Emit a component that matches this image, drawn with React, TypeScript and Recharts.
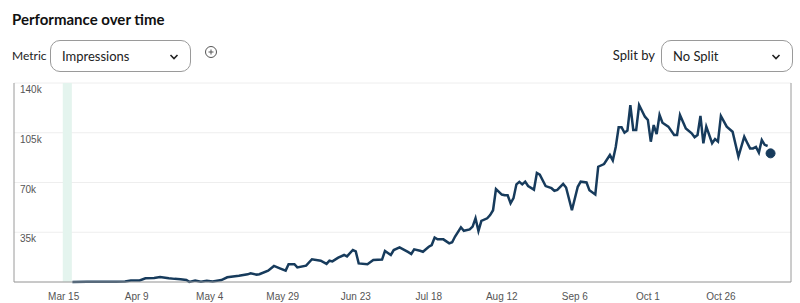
import { LineChart, Line, XAxis, YAxis, CartesianGrid, ReferenceArea, ReferenceLine } from 'recharts';

// days counted from Mar 15
const dayOffsets = [
  3, 8, 13, 18, 21, 23, 26, 28, 31, 33, 36, 38, 40, 42, 43, 45, 47, 49, 51, 54,
  56, 60, 63, 64, 66, 67, 70, 72, 74, 76, 77, 79, 80, 83, 85, 88, 90, 91, 92, 94,
  96, 97, 99, 100, 101, 104, 106, 109, 110, 112, 113, 115, 118, 119, 120, 122, 123, 125, 126, 127,
  128, 130, 132, 133, 134, 136, 137, 139, 140, 141, 142, 143, 145, 146, 147, 148, 150, 151, 152, 153,
  154, 155, 156, 157, 158, 159, 161, 162, 163, 165, 167, 168, 169, 171, 172, 174, 176, 177, 179, 180,
  182, 183, 185, 187, 188, 189, 190, 191, 192, 193, 194, 195, 196, 197, 199, 200, 201, 202, 203, 204,
  205, 207, 209, 210, 211, 213, 215, 216, 217, 218, 219, 220, 222, 223, 224, 225, 227, 229, 231, 233,
  234, 235, 236, 237, 238, 239, 240, 241
];

const impressions = [
  0, 100, 200, 200, 300, 1000, 1100, 2600, 2800, 3500, 2600, 2200, 2000, 1400, 100, 1000, 200, 800, 300, 1400,
  3300, 4400, 5400, 6100, 5200, 5500, 8000, 11300, 9600, 8000, 12500, 12500, 10300, 11500, 16000, 15000, 12700, 15000, 14500, 17100,
  19000, 18000, 22500, 21500, 13100, 12500, 15500, 15800, 21800, 19000, 22500, 24400, 21000, 19700, 23000, 22000, 21300, 24800, 26000, 31300,
  30000, 30000, 27200, 28000, 32000, 38500, 36000, 37000, 39000, 44800, 35900, 43000, 44800, 47100, 50500, 65400, 61500, 61000, 61000, 55400,
  59000, 68700, 70500, 68700, 70600, 67500, 65000, 76700, 75500, 67500, 66000, 64200, 64800, 69000, 66500, 50500, 67000, 70600, 70000, 64500,
  61500, 81100, 83000, 89300, 85500, 95000, 108800, 108800, 105000, 106500, 124500, 107000, 107000, 124500, 116300, 114000, 98700, 110400, 104000, 117500,
  112000, 109300, 103400, 103400, 117500, 108000, 104600, 101800, 103400, 116800, 97600, 109300, 97600, 100500, 98800, 116800, 109300, 105700, 88200, 102200,
  98000, 94000, 94000, 95000, 91000, 99900, 96500, 95700
];

const latestDay = 242;
const latestValue = 90500;

const xTickDays = [0, 25, 50, 75, 100, 125, 150, 175, 200, 225];
const xTickLabels = ['Mar 15', 'Apr 9', 'May 4', 'May 29', 'Jun 23', 'Jul 18', 'Aug 12', 'Sep 6', 'Oct 1', 'Oct 26'];
const yTicks = [0, 35000, 70000, 105000, 140000];
const yTickLabels = ['0', '35k', '70k', '105k', '140k'];

const LINE_COLOR = '#173b5c';
const TICK_FONT = "'Liberation Sans', Arial, sans-serif";

const chartData = [
  ...dayOffsets.map((day, i) => ({ day, impressions: impressions[i] })),
  { day: latestDay, latest: latestValue }
];

const renderYTick = (props: any) => {
  const { y, payload, index } = props;
  const idx = yTicks.indexOf(Number(payload?.value));
  if (idx <= 0) return <g key={`yt-${index}`} />;
  return (
    <text key={`yt-${index}`} x={20} y={y + 10} fontSize={10} fill="#555" fontFamily={TICK_FONT} textAnchor="start">
      {yTickLabels[idx]}
    </text>
  );
};

const Chevron = ({ x, y }: { x: number; y: number }) => (
  <svg style={{ position: 'absolute', left: x, top: y }} width={10} height={8}>
    <polyline points="1.5,2 5,5.5 8.5,2" fill="none" stroke="#222" strokeWidth={1.6} />
  </svg>
);

const Select = ({ left, width, label }: { left: number; width: number; label: string }) => (
  <div
    style={{
      position: 'absolute',
      left,
      top: 40,
      width,
      height: 32,
      boxSizing: 'border-box',
      border: '1px solid #9a9a9a',
      borderRadius: 10
    }}
  >
    <span style={{ position: 'absolute', left: 11, top: 7, fontSize: 13, color: '#222' }}>{label}</span>
    <Chevron x={width - 23} y={12} />
  </div>
);

const App = () => {
  return (
    <div
      style={{
        position: 'absolute',
        left: 0,
        top: 0,
        width: 800,
        height: 303,
        background: '#fff',
        fontFamily: 'Lato, "Noto Sans", sans-serif',
        overflow: 'hidden'
      }}
    >
      <div style={{ position: 'absolute', left: 12, top: 10, fontSize: 15, fontWeight: 700, color: '#111' }}>
        Performance over time
      </div>
      <div style={{ position: 'absolute', left: 12, top: 48, fontSize: 12, color: '#222' }}>Metric</div>
      <Select left={50} width={141} label="Impressions" />
      <svg style={{ position: 'absolute', left: 204, top: 45 }} width={14} height={14}>
        <circle cx={7} cy={7} r={5.5} fill="none" stroke="#555" strokeWidth={1} />
        <line x1={4.5} y1={7} x2={9.5} y2={7} stroke="#555" strokeWidth={1} />
        <line x1={7} y1={4.5} x2={7} y2={9.5} stroke="#555" strokeWidth={1} />
      </svg>
      <div style={{ position: 'absolute', right: 145, top: 47, fontSize: 13, color: '#222' }}>Split by</div>
      <Select left={661} width={132} label="No Split" />

      <div style={{ position: 'absolute', left: 0, top: 0 }}>
        <LineChart width={800} height={303} data={chartData} margin={{ top: 83, right: 9, bottom: 0, left: 13 }}>
          <CartesianGrid vertical={false} stroke="#eeeeee" />
          <ReferenceArea x1={-0.3} x2={2.8} fill="#e4f4ee" fillOpacity={1} stroke="none" />
          <XAxis
            dataKey="day"
            type="number"
            domain={[-17, 249]}
            ticks={xTickDays}
            tickFormatter={(v: number) => xTickLabels[xTickDays.indexOf(v)]}
            axisLine={{ stroke: '#9a9a9a' }}
            tickLine={false}
            tick={{ fontSize: 10, fill: '#555', fontFamily: TICK_FONT }}
            tickMargin={5}
            height={21}
          />
          <YAxis
            width={1}
            domain={[0, 140000]}
            ticks={yTicks}
            axisLine={{ stroke: '#9a9a9a' }}
            tickLine={false}
            tick={renderYTick}
          />
          <ReferenceLine x={249} stroke="#9a9a9a" />
          <Line
            dataKey="impressions"
            type="linear"
            stroke={LINE_COLOR}
            strokeWidth={2.5}
            dot={false}
            isAnimationActive={false}
          />
          <Line
            dataKey="latest"
            type="linear"
            stroke="none"
            dot={{ r: 4.5, fill: LINE_COLOR, stroke: LINE_COLOR }}
            isAnimationActive={false}
          />
        </LineChart>
      </div>
    </div>
  );
};

export default App;
